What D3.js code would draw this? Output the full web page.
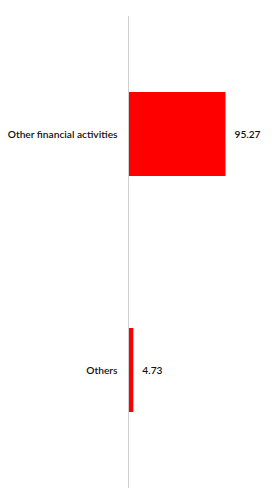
<!DOCTYPE html>
<html>
<head>
<meta charset="utf-8">
<script src="https://cdn.jsdelivr.net/npm/d3@7"></script>
<style>
  body { margin: 0; background: #fff; }
  text { font-family: Lato, "Open Sans", sans-serif; font-weight: 600; font-size: 10.2px; fill: #111; }
</style>
</head>
<body>
<svg></svg>
<script>
// data
var categories = ['Other financial activities', 'Others'];
var values = [95.27, 4.73];

var width = 277, height = 503;
var x0 = 128.5;

var svg = d3.select('svg')
  .attr('width', width)
  .attr('height', height);

var x = d3.scaleLinear()
  .domain([0, 100])
  .range([x0, x0 + 101.8]);

var y = d3.scaleBand()
  .domain(categories)
  .range([16, 488])
  .paddingInner(0.644)
  .paddingOuter(0.322);

svg.append('g').selectAll('rect')
  .data(values)
  .enter()
  .append('rect')
  .attr('x', x(0))
  .attr('y', function(d, i){ return y(categories[i]); })
  .attr('width', function(d){ return x(d) - x(0); })
  .attr('height', y.bandwidth())
  .style('fill', '#ff0000');

// vertical axis line
svg.append('line')
  .attr('x1', x0).attr('x2', x0)
  .attr('y1', 16).attr('y2', 488)
  .style('stroke', '#d0d0d0')
  .style('stroke-width', 1);

// category labels
svg.append('g').selectAll('text')
  .data(categories)
  .enter()
  .append('text')
  .attr('x', x0 - 11)
  .attr('y', function(d){ return y(d) + y.bandwidth() / 2 + 0.5; })
  .attr('dy', '0.35em')
  .attr('text-anchor', 'end')
  .text(function(d){ return d; });

// value labels
svg.append('g').selectAll('text')
  .data(values)
  .enter()
  .append('text')
  .attr('x', function(d){ return x(d) + 9; })
  .attr('y', function(d, i){ return y(categories[i]) + y.bandwidth() / 2 + 0.5; })
  .attr('dy', '0.35em')
  .text(function(d){ return d.toFixed(2); });
</script>
</body>
</html>
